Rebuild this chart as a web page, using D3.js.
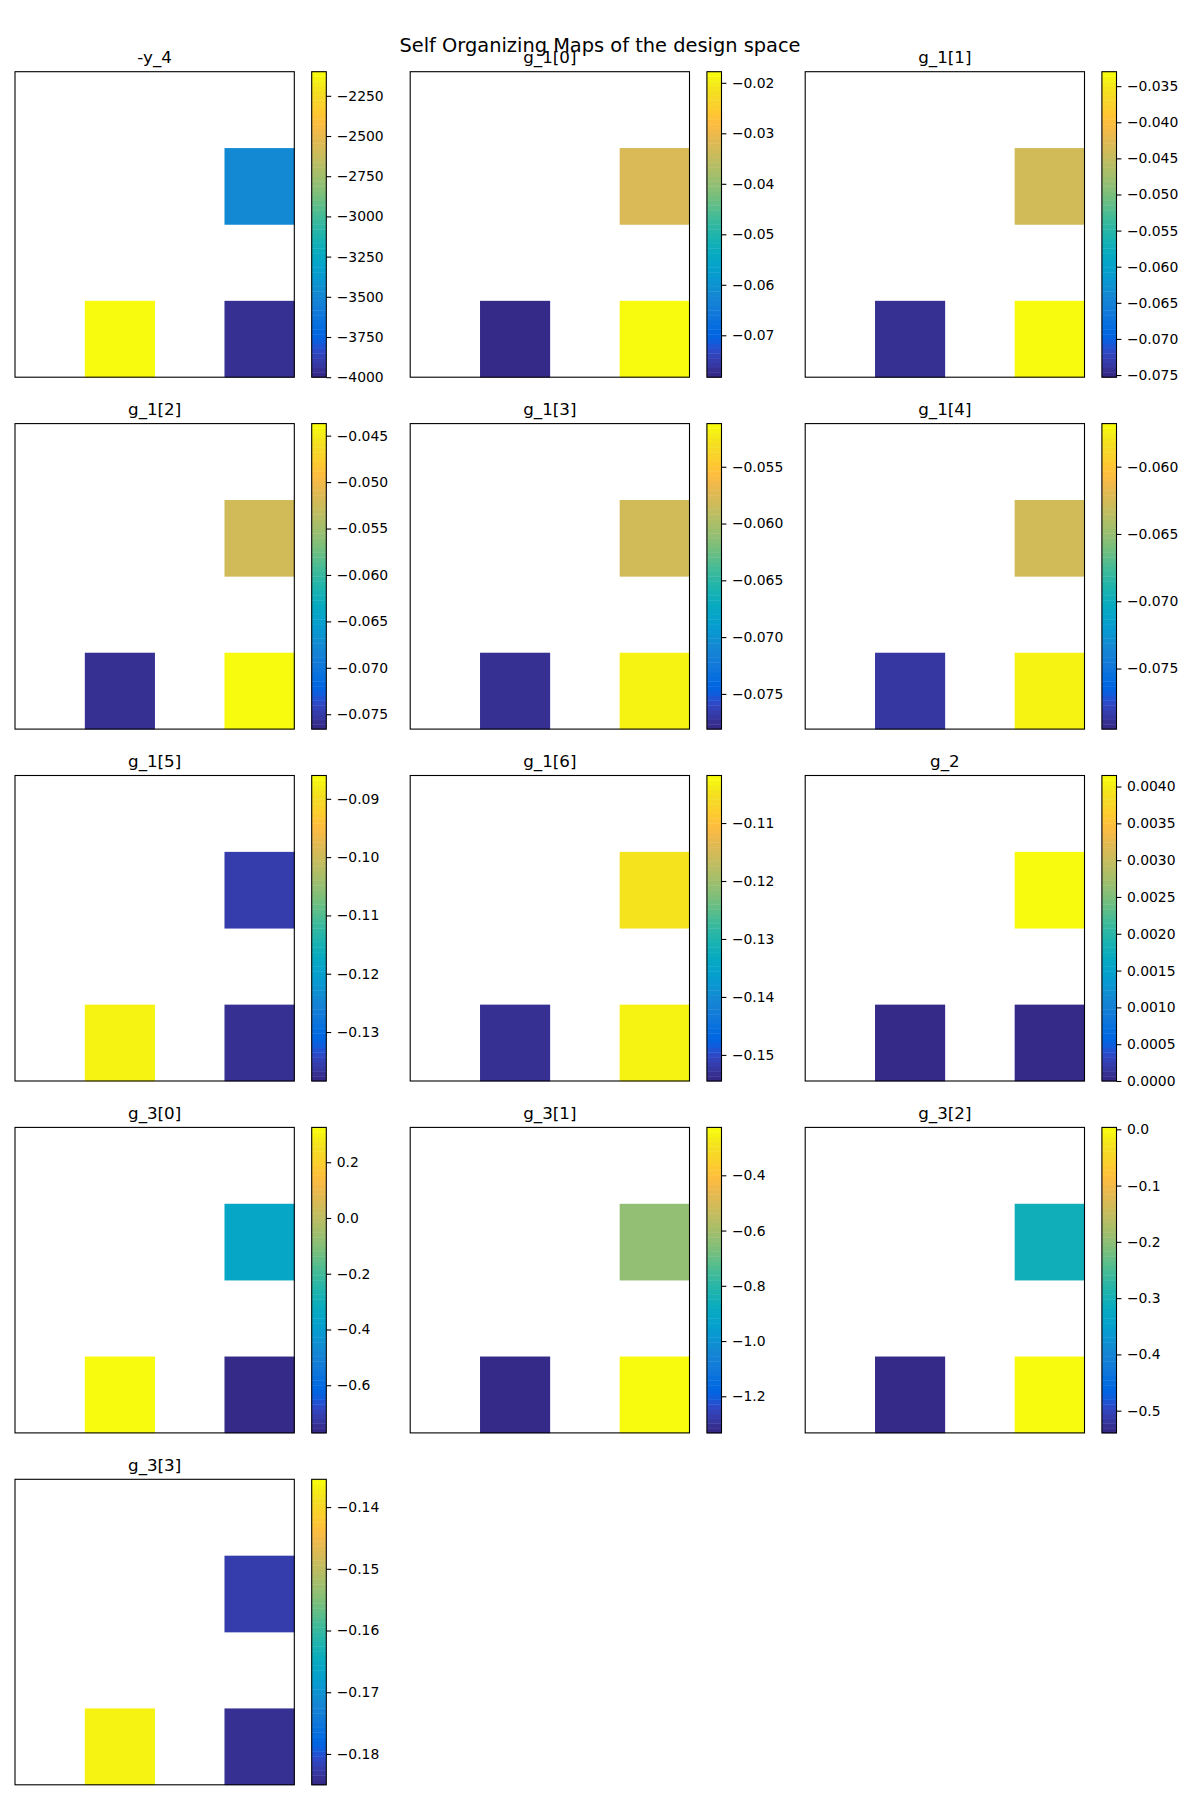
<html>
<head>
<title>SOM design space</title>
<script src="https://cdn.jsdelivr.net/npm/d3@7"></script>
<style>
  body { margin: 0; background: #fff; }
  text { font-family: "DejaVu Sans", sans-serif; }
</style>
</head>
<body>
<script>
// panel titles, row by row
const titles = ["-y_4", "g_1[0]", "g_1[1]", "g_1[2]", "g_1[3]", "g_1[4]",
                "g_1[5]", "g_1[6]", "g_2", "g_3[0]", "g_3[1]", "g_3[2]", "g_3[3]"]

// SOM nodes that have a value: column / row on the 4x4 map (row 0 = top)
const nodeCol = [3, 1, 3]
const nodeRow = [1, 3, 3]

// node values per panel: [upper right, lower left, lower right]
const cellValues = [
  [-3480, -2100, -3955],
  [-0.0325, -0.0783, -0.0178],
  [-0.0439, -0.0743, -0.0334],
  [-0.0522, -0.0758, -0.0437],
  [-0.0581, -0.0775, -0.0518],
  [-0.0627, -0.0786, -0.0573],
  [-0.1355, -0.0876, -0.1372],
  [-0.1047, -0.1529, -0.1029],
  [0.00415, 0.0, 0.0],
  [-0.351, 0.325, -0.771],
  [-0.632, -1.3325, -0.2266],
  [-0.306, -0.5395, 0.0034],
  [-0.1823, -0.1370, -0.1835]
]

// colour bar limits
const cbarMin = [-4000, -0.0783, -0.0753, -0.0766, -0.0781, -0.0795, -0.1384, -0.1545, 0, -0.771, -1.3325, -0.5395, -0.1850]
const cbarMax = [-2100, -0.0178, -0.0330, -0.0437, -0.0512, -0.0568, -0.0860, -0.1018, 0.00415, 0.325, -0.2266, 0.0034, -0.1355]

// colour bar tick labels
const tickLabels = [
  ["−4000", "−3750", "−3500", "−3250", "−3000", "−2750", "−2500", "−2250"],
  ["−0.07", "−0.06", "−0.05", "−0.04", "−0.03", "−0.02"],
  ["−0.075", "−0.070", "−0.065", "−0.060", "−0.055", "−0.050", "−0.045", "−0.040", "−0.035"],
  ["−0.075", "−0.070", "−0.065", "−0.060", "−0.055", "−0.050", "−0.045"],
  ["−0.075", "−0.070", "−0.065", "−0.060", "−0.055"],
  ["−0.075", "−0.070", "−0.065", "−0.060"],
  ["−0.13", "−0.12", "−0.11", "−0.10", "−0.09"],
  ["−0.15", "−0.14", "−0.13", "−0.12", "−0.11"],
  ["0.0000", "0.0005", "0.0010", "0.0015", "0.0020", "0.0025", "0.0030", "0.0035", "0.0040"],
  ["−0.6", "−0.4", "−0.2", "0.0", "0.2"],
  ["−1.2", "−1.0", "−0.8", "−0.6", "−0.4"],
  ["−0.5", "−0.4", "−0.3", "−0.2", "−0.1", "0.0"],
  ["−0.18", "−0.17", "−0.16", "−0.15", "−0.14"]
]

// parula, 64 steps
const parula = [
  [0.2081,0.1663,0.5292],[0.2116,0.1898,0.5777],[0.2123,0.2138,0.6270],[0.2081,0.2386,0.6771],
  [0.1959,0.2645,0.7279],[0.1707,0.2919,0.7792],[0.1253,0.3242,0.8303],[0.0591,0.3598,0.8683],
  [0.0117,0.3875,0.8820],[0.0060,0.4086,0.8828],[0.0165,0.4266,0.8786],[0.0329,0.4430,0.8720],
  [0.0498,0.4586,0.8641],[0.0629,0.4737,0.8554],[0.0723,0.4887,0.8467],[0.0779,0.5040,0.8384],
  [0.0793,0.5200,0.8312],[0.0749,0.5375,0.8263],[0.0641,0.5570,0.8240],[0.0488,0.5772,0.8228],
  [0.0343,0.5966,0.8199],[0.0265,0.6137,0.8135],[0.0239,0.6287,0.8038],[0.0231,0.6418,0.7913],
  [0.0228,0.6535,0.7768],[0.0267,0.6642,0.7607],[0.0384,0.6743,0.7436],[0.0590,0.6838,0.7254],
  [0.0843,0.6928,0.7062],[0.1133,0.7015,0.6859],[0.1453,0.7098,0.6646],[0.1801,0.7177,0.6424],
  [0.2178,0.7250,0.6193],[0.2586,0.7317,0.5954],[0.3022,0.7376,0.5712],[0.3482,0.7424,0.5473],
  [0.3953,0.7459,0.5244],[0.4420,0.7481,0.5033],[0.4871,0.7491,0.4840],[0.5300,0.7491,0.4661],
  [0.5709,0.7485,0.4494],[0.6099,0.7473,0.4337],[0.6473,0.7456,0.4188],[0.6834,0.7435,0.4044],
  [0.7184,0.7411,0.3905],[0.7525,0.7384,0.3768],[0.7858,0.7356,0.3633],[0.8185,0.7327,0.3498],
  [0.8507,0.7299,0.3360],[0.8824,0.7274,0.3217],[0.9139,0.7258,0.3063],[0.9450,0.7261,0.2886],
  [0.9739,0.7314,0.2666],[0.9938,0.7455,0.2403],[0.9990,0.7653,0.2164],[0.9955,0.7861,0.1967],
  [0.9880,0.8066,0.1794],[0.9789,0.8271,0.1633],[0.9697,0.8481,0.1475],[0.9626,0.8705,0.1309],
  [0.9589,0.8949,0.1132],[0.9598,0.9218,0.0948],[0.9661,0.9514,0.0755],[0.9763,0.9831,0.0538]
].map(c => d3.rgb(c[0]*255, c[1]*255, c[2]*255).formatHex())

// figure layout
let W = 1200, H = 1800
let axW = 279.3, axH = 305.5
let colX = [15, 410.2, 805.2]
let rowY = [71.7, 423.6, 775.5, 1127.4, 1479.3]
let cbGap = 17.4, cbW = 14.6

let svg = d3.select("body").append("svg")
            .attr("width", W).attr("height", H)

svg.append("text")
   .attr("x", 600).attr("y", 51.5)
   .attr("text-anchor", "middle")
   .attr("font-size", "19.4px")
   .text("Self Organizing Maps of the design space")

titles.forEach((t, i) => {
  let cx = colX[i % 3], cy = rowY[Math.floor(i / 3)]
  let g = svg.append("g").attr("transform", "translate(" + cx + "," + cy + ")")

  let xScale = d3.scaleBand().domain([0, 1, 2, 3]).range([0, axW])
  let yScale = d3.scaleBand().domain([0, 1, 2, 3]).range([0, axH])
  let color = d3.scaleQuantize().domain([cbarMin[i], cbarMax[i]]).range(parula)

  g.selectAll("rect.cell")
   .data(cellValues[i])
   .enter()
   .append("rect")
   .attr("class", "cell")
   .attr("x", (d, k) => xScale(nodeCol[k]))
   .attr("y", (d, k) => yScale(nodeRow[k]))
   .attr("width", xScale.bandwidth() + 0.3)
   .attr("height", yScale.bandwidth() + 0.3)
   .attr("fill", d => color(d))

  // axes frame
  g.append("rect")
   .attr("width", axW).attr("height", axH)
   .attr("fill", "none").attr("stroke", "#000").attr("stroke-width", 1.1)

  g.append("text")
   .attr("x", axW / 2).attr("y", -8.4)
   .attr("text-anchor", "middle")
   .attr("font-size", "16.7px")
   .text(t)

  // colour bar
  let cb = g.append("g").attr("transform", "translate(" + (axW + cbGap) + ",0)")
  let cbScale = d3.scaleLinear().domain([cbarMin[i], cbarMax[i]]).range([axH, 0])
  let step = (cbarMax[i] - cbarMin[i]) / parula.length
  cb.selectAll("rect.band")
    .data(parula)
    .enter()
    .append("rect")
    .attr("class", "band")
    .attr("x", 0)
    .attr("width", cbW)
    .attr("y", (c, k) => cbScale(cbarMin[i] + (k + 1) * step))
    .attr("height", (c, k) => cbScale(cbarMin[i] + k * step) - cbScale(cbarMin[i] + (k + 1) * step) + 0.4)
    .attr("fill", c => c)
  cb.append("rect")
    .attr("width", cbW).attr("height", axH)
    .attr("fill", "none").attr("stroke", "#000").attr("stroke-width", 1.1)

  let tickVals = tickLabels[i].map(s => +s.replace("−", "-"))
  let cbAxis = d3.axisRight(cbScale)
                 .tickValues(tickVals)
                 .tickFormat((d, k) => tickLabels[i][k])
                 .tickSize(4.9)
                 .tickPadding(5.5)
  let ax = cb.append("g")
             .attr("transform", "translate(" + cbW + ",0)")
             .call(cbAxis)
  ax.select(".domain").remove()
  ax.selectAll("line").attr("stroke-width", 1.1)
  ax.selectAll("text")
    .attr("font-size", "13.9px")
    .attr("font-family", "DejaVu Sans, sans-serif")
    .attr("fill", "#000")
})
</script>
</body>
</html>
